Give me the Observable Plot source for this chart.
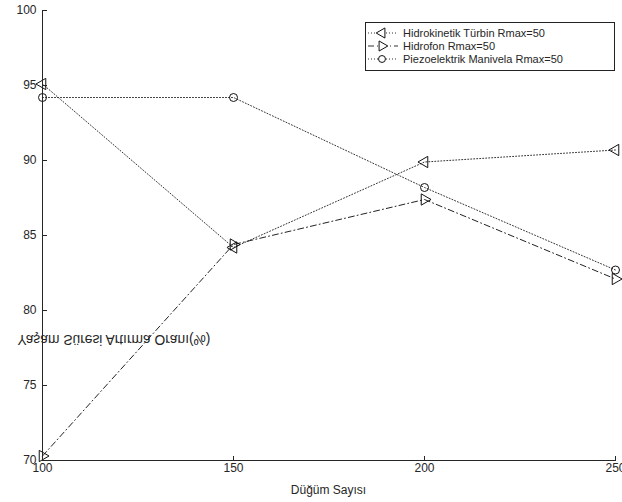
<!DOCTYPE html>
<html>
<head>
<meta charset="utf-8">
<script src="https://cdn.jsdelivr.net/npm/d3@7"></script>
<script src="https://cdn.jsdelivr.net/npm/@observablehq/plot@0.6"></script>
<style>
  body { margin:0; background:#fff; }
  #wrap { position:relative; width:622px; height:502px; font-family:"Liberation Sans", Arial, sans-serif; color:#262626; }
  #ylab { position:absolute; left:0; top:331px; width:228px; text-align:center; font-size:13.8px; transform:scaleY(-1); white-space:nowrap; line-height:16px; }
  #xlab { position:absolute; left:42px; width:573px; top:482px; text-align:center; font-size:12px; line-height:16px; }
  #legend { position:absolute; left:365px; top:22px; width:248px; height:47px; border:1px solid #222; background:#fff; font-size:11px; }
  .row { position:absolute; left:0; height:14px; display:flex; align-items:center; }
  .row svg { display:block; }
  .row span { margin-left:3px; white-space:nowrap; }
  .axisbox { position:absolute; border-left:1px solid #262626; border-bottom:1px solid #262626; pointer-events:none; }
  .tk { position:absolute; background:#262626; pointer-events:none; }
</style>
</head>
<body>
<div id="wrap"></div>
<script>
const nodes = [100, 150, 200, 250];
const hidrokinetik = [95.1, 84.2, 89.9, 90.7];
const hidrofon = [70.3, 84.4, 87.4, 82.1];
const piezo = [94.2, 94.2, 88.2, 82.7];
const seriesNames = ["Hidrokinetik Türbin Rmax=50", "Hidrofon Rmax=50", "Piezoelektrik Manivela Rmax=50"];
const xTicks = [100, 150, 200, 250];
const yTicks = [70, 75, 80, 85, 90, 95, 100];
const xDomain = [100, 250];
const yDomain = [70, 100];

const toRows = (vals) => nodes.map((n, i) => ({x: n, y: vals[i]}));
const d1 = toRows(hidrokinetik), d2 = toRows(hidrofon), d3r = toRows(piezo);

const chart = Plot.plot({
  width: 622, height: 502,
  marginLeft: 42, marginRight: 7, marginTop: 10, marginBottom: 42,
  style: {fontFamily: "Liberation Sans, Arial, sans-serif", fontSize: "12px", color: "#262626", background: "transparent"},
  x: {domain: xDomain, ticks: xTicks, label: null},
  y: {domain: yDomain, ticks: yTicks, label: null},
  marks: [
    Plot.axisX({ticks: xTicks, tickSize: 0, tickPadding: 3, label: null, fontSize: 12}),
    Plot.axisY({ticks: yTicks, tickSize: 0, tickPadding: 6, label: null, fontSize: 12}),
    Plot.ruleX(xTicks, {x: d => d, y1: yDomain[0], y2: yDomain[0], insetTop: -4, stroke: "#262626", strokeWidth: 1}),
    Plot.ruleY(yTicks, {y: d => d, x1: xDomain[0], x2: xDomain[0], insetRight: -4, stroke: "#262626", strokeWidth: 1}),
    Plot.ruleX([xDomain[0]], {stroke: "#262626", strokeWidth: 1}),
    Plot.ruleY([yDomain[0]], {stroke: "#262626", strokeWidth: 1}),
    Plot.line(d1, {x: "x", y: "y", stroke: "#333", strokeWidth: 1, strokeDasharray: "1,2"}),
    Plot.line(d3r, {x: "x", y: "y", stroke: "#333", strokeWidth: 1, strokeDasharray: "1,2"}),
    Plot.line(d2, {x: "x", y: "y", stroke: "#222", strokeWidth: 1, strokeDasharray: "6,3,1,3"}),
    Plot.dot(d1, {x: "x", y: "y", symbol: "triangle", rotate: -90, r: 4.2, stroke: "#111", strokeWidth: 1, fill: "none"}),
    Plot.dot(d2, {x: "x", y: "y", symbol: "triangle", rotate: 90, r: 4.2, stroke: "#111", strokeWidth: 1, fill: "none"}),
    Plot.dot(d3r, {x: "x", y: "y", symbol: "circle", r: 4, stroke: "#111", strokeWidth: 1, fill: "none"})
  ]
});
const wrap = document.getElementById("wrap");
wrap.appendChild(chart);

// axis lines and inward ticks placed with the chart's own scales
const sx = chart.scale("x"), sy = chart.scale("y");
const x0 = Math.round(sx.apply(xDomain[0])), x1 = Math.round(sx.apply(xDomain[1]));
const yTop = Math.round(sy.apply(yDomain[1])), yBot = Math.round(sy.apply(yDomain[0]));
const box = document.createElement("div");
box.className = "axisbox";
box.style.left = x0 + "px";
box.style.top = yTop + "px";
box.style.width = (x1 - x0) + "px";
box.style.height = (yBot - yTop) + "px";
wrap.appendChild(box);
xTicks.forEach(v => {
  const t = document.createElement("div");
  t.className = "tk";
  t.style.left = Math.round(sx.apply(v)) + "px";
  t.style.top = (yBot - 4) + "px";
  t.style.width = "1px"; t.style.height = "4px";
  wrap.appendChild(t);
});
yTicks.forEach(v => {
  const t = document.createElement("div");
  t.className = "tk";
  t.style.left = x0 + "px";
  t.style.top = Math.round(sy.apply(v)) + "px";
  t.style.width = "5px"; t.style.height = "1px";
  wrap.appendChild(t);
});

const ylab = document.createElement("div");
ylab.id = "ylab";
ylab.textContent = "Yaşam Süresi Artırma Oranı(%)";
wrap.appendChild(ylab);

const xlab = document.createElement("div");
xlab.id = "xlab";
xlab.textContent = "Düğüm Sayısı";
wrap.appendChild(xlab);

const legend = document.createElement("div");
legend.id = "legend";
wrap.appendChild(legend);
const styles = [
  {dash: "1,2", sym: "triangle", rot: -90},
  {dash: "6,3,1,3", sym: "triangle", rot: 90},
  {dash: "1,2", sym: "circle", rot: 0}
];
seriesNames.forEach((name, i) => {
  const row = document.createElement("div");
  row.className = "row";
  row.style.top = (3 + i * 13) + "px";
  const s = d3.create("svg").attr("width", 34).attr("height", 14);
  s.append("line").attr("x1", 2).attr("x2", 32).attr("y1", 7).attr("y2", 7)
    .attr("stroke", "#333").attr("stroke-dasharray", styles[i].dash);
  const symType = styles[i].sym === "circle" ? d3.symbolCircle : d3.symbolTriangle;
  const size = styles[i].sym === "circle" ? Math.PI * 12 : Math.PI * 14;
  s.append("path").attr("d", d3.symbol(symType, size)())
    .attr("transform", `translate(16,7) rotate(${styles[i].rot})`)
    .attr("fill", "#fff").attr("stroke", "#111");
  row.appendChild(s.node());
  const t = document.createElement("span");
  t.textContent = name;
  row.appendChild(t);
  legend.appendChild(row);
});
</script>
</body>
</html>
